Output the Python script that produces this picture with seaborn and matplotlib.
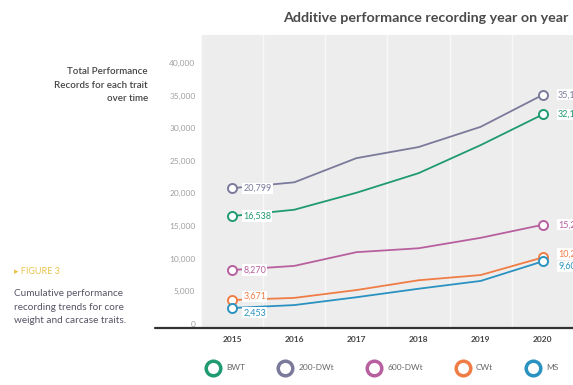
import numpy as np
import pandas as pd
import seaborn as sns
import matplotlib.pyplot as plt
from matplotlib.lines import Line2D
from matplotlib.ticker import FuncFormatter


years = [2015, 2016, 2017, 2018, 2019, 2020]
traits = ['BWT', '200-DWt', '600-DWt', 'CWt', 'MS']
bwt = [16538, 17500, 20100, 23100, 27400, 32100]
dwt200 = [20799, 21700, 25400, 27100, 30200, 35100]
dwt600 = [8270, 8900, 11000, 11600, 13200, 15200]
cwt = [3671, 4000, 5200, 6700, 7500, 10200]
ms = [2453, 2900, 4100, 5400, 6600, 9600]
y_ticks = [0, 5000, 10000, 15000, 20000, 25000, 30000, 35000, 40000]

colors = ['#1f9a72', '#7b7a9b', '#b8609f', '#ef7d45', '#2a92c0']
# small vertical nudges (points) for the end labels so they don't collide
nudge = [0, 0, 0, 2.5, -3.5]

df = pd.DataFrame({
    'year': years * len(traits),
    'trait': np.repeat(traits, len(years)),
    'records': bwt + dwt200 + dwt600 + cwt + ms,
})

sns.set_style('white')
plt.rcParams['font.family'] = ['Lato', 'DejaVu Sans']

W, H = 573, 385
fig = plt.figure(figsize=(W / 100, H / 100), dpi=100)
ax = fig.add_axes([201 / W, 1 - 328 / H, (605 - 201) / W, (328 - 35) / H])
ax.set_facecolor('#ededed')

for k, trait in enumerate(traits):
    sub = df.query(f"trait == '{trait}'")
    sns.lineplot(x='year', y='records', data=sub, ax=ax, color=colors[k],
                 lw=1.3, marker='o', markevery=[0, len(years) - 1], ms=6.5,
                 mfc='white', mec=colors[k], mew=1.4, legend=False, zorder=3)
    first, last = sub['records'].iloc[0], sub['records'].iloc[-1]
    for x, v, dx in [(years[0], first, 8), (years[-1], last, 11)]:
        ax.annotate(f"{v:,}", (x, v), xytext=(dx, nudge[k]), textcoords='offset points',
                    ha='left', va='center', fontsize=6.5, color=colors[k], zorder=4,
                    bbox=dict(boxstyle='square,pad=0.12', fc='white', ec='none'))

ax.set_xlim(2014.5, 2021.0)
ax.set_ylim(-610, 44260)
ax.set_xticks(years)
ax.set_xticks([y - 0.5 for y in years] + [2020.5], minor=True)
ax.set_yticks(y_ticks)
ax.yaxis.set_major_formatter(FuncFormatter(lambda v, p: f"{int(v):,}"))
ax.grid(False)
ax.grid(which='minor', axis='x', color='#f8f8f8', lw=1.0)
ax.tick_params(axis='y', length=0, pad=4, labelsize=6, labelcolor='#a0a0a0')
ax.tick_params(axis='x', which='both', length=0, pad=6, labelsize=6, labelcolor='#444444')
for lab in ax.get_xticklabels():
    lab.set_fontweight('bold')
ax.set_xlabel('')
ax.set_ylabel('')
for s in ['top', 'right', 'left', 'bottom']:
    ax.spines[s].set_visible(False)

# dark baseline running under the y labels
fig.add_artist(Line2D([155 / W, 1], [1 - 328 / H] * 2, color='#333333', lw=1.6))

fig.text(283 / W, 1 - 18 / H, 'Additive performance recording year on year',
         ha='left', va='center', fontsize=10.3, fontweight='bold', color='#4a4a4a')

fig.text(148 / W, 1 - 85 / H, 'Total Performance\nRecords for each trait\nover time',
         ha='right', va='center', fontsize=7, color='#444444', linespacing=1.6,
         fontweight='semibold')

fig.text(14 / W, 1 - 272 / H, '▸ FIGURE 3', ha='left', va='center',
         fontsize=6.5, color='#e8c34a')
fig.text(14 / W, 1 - 307 / H,
         'Cumulative performance\nrecording trends for core\nweight and carcase traits.',
         ha='left', va='center', fontsize=7.2, color='#555566', linespacing=1.6)

handles = [Line2D([], [], ls='none', marker='o', ms=10.5, mfc='white', mec=c, mew=2.5)
           for c in colors]
fig.legend(handles, traits, loc='center left', bbox_to_anchor=(200 / W, 1 - 368 / H),
           ncol=5, frameon=False, fontsize=6, handletextpad=1.0, columnspacing=4.2,
           labelcolor='#666666', handlelength=1.2)

fig.savefig('out.png', dpi=100)
